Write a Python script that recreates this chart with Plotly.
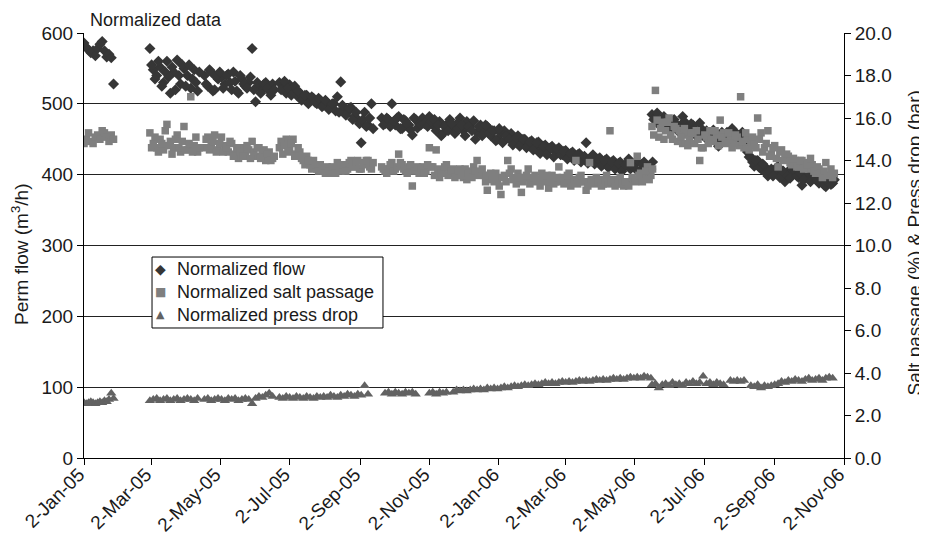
import pandas as pd
import plotly.graph_objects as go

# ---------------- data ----------------
# sampling campaigns: start date and sampling step (days); "2" arrays are the
# interleaved second readings of the same campaign
start_a, step_a = "2005-01-02", 2
start_b, step_b = "2005-03-01", 3
start_b2 = "2005-03-02 12:00"
start_c, step_c = "2006-05-17", 3
start_c2 = "2006-05-18 12:00"

flow_a = [586, 580, 576, 572, 575, 568, 578, 584, 588, 575, 566, 570, 565, 528]
salt_a = [14.8, 15.0, 15.3, 14.9, 14.8, 15.1, 15.2, 15.0, 15.4, 15.3, 15.1, 14.9, 15.2, 15.0]
press_a = [2.6, 2.55, 2.6, 2.65, 2.6, 2.55, 2.6, 2.65, 2.6, 2.7, 2.65, 2.75, 3.05, 2.8]

flow_b = [578, 548, 540, 552, 530, 560, 515, 545, 562, 528,
          550, 540, 522, 548, 518, None, 540, 525, 545, 520,
          535, 538, 528, 542, 520, 532, 515, 535, 525, 530,
          578, 503, 525, 520, 530, 518, 528, None, 530, 525,
          515, 527, 520, 512, 515, 508, 512, 505, 508, 500,
          505, 498, 502, 495, 500, 510, 531, 492, 488, 495,
          482, 478, 445, 488, 470, 500, None, None, 480, 472,
          478, 500, 470, 482, 465, 476, 470, 456, 478, 472,
          480, 475, 482, 470, 462, 475, 458, 470, 478, 465,
          472, 480, 462, 475, 468, 476, 460, 470, 462, 468,
          455, 462, 450, 458, 462, 452, 458, 448, 455, 445,
          450, 442, 448, 440, 446, 436, 442, 434, 440, 432,
          438, 428, 434, 426, 432, 424, 430, 422, 445, 420,
          428, 418, 424, 415, 422, 414, 420, 412, 418, 410,
          416, 408, 414, 420, 406, 418, 402, 408]
flow_b2 = [555, 535, 560, 525, 545, 538, 552, 520, 540, 555,
           525, 555, 535, 530, 545, None, 528, 548, 518, 538,
           545, 522, 540, 530, 545, 518, 540, 528, 522, 538,
           520, 530, 515, 528, 522, 512, 520, None, 520, 532,
           522, 512, 525, 518, 505, 512, 500, 510, 502, 508,
           496, 505, 492, 500, 490, 488, 498, 484, 494, 478,
           488, 472, 478, 468, 480, 465, None, None, 470, 480,
           468, 475, 480, 465, 478, 472, 463, 480, 466, 470,
           472, 468, 475, 478, 470, 455, 468, 462, 472, 458,
           465, 470, 455, 468, 462, 450, 468, 455, 470, 458,
           462, 448, 465, 445, 455, 450, 442, 452, 440, 450,
           438, 446, 435, 445, 430, 440, 428, 438, 425, 436,
           428, 433, 422, 430, 420, 428, 418, 426, 416, 424,
           415, 422, 412, 420, 410, 418, 408, 416, 405, 414,
           422, 412, 408, 404, 414, 410, 412, 418]
salt_b = [15.3, 14.8, 14.6, 15.0, 14.5, 15.7, 14.9, 14.6, 15.2, 14.4,
          15.6, 14.5, 17.0, 14.7, 14.4, None, 14.6, 15.1, 14.7, 15.2,
          14.5, 15.1, 14.7, 14.4, 14.8, 14.3, 14.1, 14.6, 14.3, 14.5,
          14.9, 14.2, 14.6, 14.3, 14.0, 14.4, 14.1, None, 14.6, 14.3,
          15.0, 14.5, 15.0, 14.3, 14.4, 14.0, 14.2, 13.8, 14.0, 13.6,
          13.8, 13.5, 13.7, 13.4, 13.6, 13.9, 13.5, 13.8, 13.6, 14.0,
          13.7, 14.0, 13.6, 13.9, 14.0, 13.6, None, None, 13.7, 13.5,
          13.6, 13.9, 13.6, 14.3, 13.8, 13.5, 13.7, 12.8, 13.6, 13.4,
          13.7, 13.5, 14.6, 13.7, 14.5, 13.2, 13.5, 13.8, 13.4, 13.6,
          13.3, 13.6, 13.2, 13.1, 13.5, 13.7, 14.0, 13.4, 13.3, 12.6,
          13.4, 13.0, 13.1, 12.4, 13.3, 14.0, 13.6, 13.2, 13.4, 12.5,
          13.2, 13.6, 13.1, 13.3, 13.1, 13.4, 13.0, 12.7, 13.3, 13.0,
          13.7, 13.2, 13.0, 13.4, 13.1, 14.0, 13.2, 13.0, 12.6, 13.9,
          13.0, 13.2, 13.1, 12.9, 13.3, 15.4, 13.1, 12.9, 13.2, 12.8,
          13.0, 13.9, 13.1, 14.2, 13.4, 13.2, 13.7, 13.3]
salt_b2 = [14.6, 15.1, 14.4, 14.8, 15.4, 14.7, 14.3, 15.0, 14.6, 14.9,
           14.5, 14.8, 14.4, 15.1, 14.6, None, 15.0, 14.5, 14.9, 14.4,
           14.8, 14.4, 14.6, 14.9, 14.2, 14.6, 14.4, 14.2, 14.7, 14.1,
           14.4, 14.6, 14.1, 14.5, 14.3, 14.0, 14.2, None, 14.9, 14.7,
           14.4, 14.8, 14.2, 14.6, 14.1, 13.8, 14.0, 13.6, 13.8, 13.5,
           13.6, 13.4, 13.5, 13.7, 13.4, 13.6, 13.8, 13.5, 13.9, 13.7,
           13.9, 13.6, 13.8, 14.0, 13.7, 13.9, None, None, 13.6, 13.4,
           13.8, 13.5, 13.7, 13.9, 13.6, 13.4, 13.8, 13.5, 13.7, 13.6,
           13.4, 13.8, 13.7, 13.3, 13.6, 13.4, 13.7, 13.3, 13.5, 13.2,
           13.5, 13.3, 13.6, 13.4, 13.2, 13.5, 13.3, 13.6, 13.0, 13.3,
           13.1, 13.4, 12.8, 13.2, 13.0, 13.4, 13.1, 12.9, 13.2, 13.0,
           13.3, 12.9, 13.2, 13.0, 12.8, 13.1, 13.3, 13.0, 12.9, 13.2,
           13.0, 12.9, 13.3, 12.8, 13.1, 12.9, 13.3, 13.0, 12.8, 13.1,
           12.9, 13.0, 12.8, 13.1, 12.9, 13.0, 12.8, 13.1, 12.9, 13.0,
           12.8, 13.2, 13.0, 13.3, 13.0, 13.5, 13.1, 13.6]
press_b = [2.7, 2.75, 2.8, 2.7, 2.75, 2.8, 2.7, 2.75, 2.8, 2.7,
           2.75, 2.8, 2.75, 2.7, 2.8, None, 2.75, 2.8, 2.7, 2.75,
           2.8, 2.75, 2.7, 2.8, 2.75, 2.8, 2.7, 2.75, 2.8, 2.75,
           2.55, 2.8, 2.9, 2.85, 2.95, 3.05, 2.9, None, 2.85, 2.8,
           2.9, 2.85, 2.8, 2.9, 2.85, 2.8, 2.9, 2.85, 2.8, 2.9,
           2.85, 2.9, 2.85, 2.95, 2.9, 2.85, 2.95, 2.9, 3.0, 2.95,
           2.9, 3.0, 2.95, 3.4, 3.0, None, None, None, None, 3.05,
           3.1, 3.0, 3.1, 3.05, 3.0, 3.1, 3.05, 3.1, 3.0, None,
           None, None, 3.05, 3.1, 3.0, 3.1, 3.05, 3.1, None, 3.1,
           3.2, 3.15, 3.2, 3.15, 3.2, 3.25, 3.2, 3.25, 3.2, 3.3,
           3.25, 3.3, 3.25, 3.3, 3.35, 3.3, 3.35, 3.4, 3.35, 3.4,
           3.45, 3.4, 3.45, 3.5, 3.45, 3.5, 3.55, 3.5, 3.55, 3.5,
           3.55, 3.6, 3.55, 3.6, 3.55, 3.6, 3.65, 3.6, 3.65, 3.6,
           3.65, 3.7, 3.65, 3.7, 3.65, 3.7, 3.75, 3.7, 3.75, 3.7,
           3.75, 3.8, 3.75, 3.8, 3.75, 3.85, 3.8, 3.75]

flow_c = [485, 480, 472, 478, 470, 475, 466, 472, 465, 482,
          468, 462, 470, 458, 473, 455, 462, 450, 463, 445,
          453, 448, 460, 458, 462, 452, 456, 440, 432, 425,
          412, 420, 408, 412, 398, 408, 402, 411, 400, 390,
          405, 400, 407, 396, 385, 398, 402, 395, 400, 388,
          395, 383, 392, 388]
flow_c2 = [478, 487, 468, 482, 465, 472, 478, 462, 470, 475,
           460, 472, 465, 452, 465, 460, 448, 458, 452, 440,
           460, 452, 448, 465, 455, 445, 460, 448, 425, 418,
           420, 410, 415, 402, 405, 398, 410, 396, 405, 398,
           395, 408, 398, 402, 393, 405, 390, 398, 392, 395,
           385, 390, 386, 393]
salt_c = [15.6, 17.3, 15.1, 15.8, 15.4, 16.0, 15.0, 15.5, 15.4, 14.8,
          15.2, 15.0, 15.3, 15.4, 14.0, 14.6, 15.1, 15.4, 14.9, 15.2,
          15.9, 15.3, 14.9, 15.0, 14.8, 15.1, 17.0, 14.6, 15.0, 14.7,
          14.8, 16.0, 15.3, 14.6, 15.4, 14.3, 14.7, 13.7, 14.5, 14.1,
          14.2, 13.8, 14.0, 13.7, 14.0, 13.9, 13.6, 13.8, 13.4, 13.6,
          13.2, 13.9, 13.3, 13.2]
salt_c2 = [15.2, 15.9, 15.5, 15.0, 15.8, 15.2, 15.6, 14.9, 15.1, 15.5,
           14.7, 15.3, 14.8, 15.0, 14.6, 15.2, 14.8, 15.0, 15.4, 14.7,
           15.1, 14.8, 15.3, 14.6, 15.2, 14.7, 14.9, 15.3, 14.5, 15.1,
           14.6, 15.0, 14.4, 14.8, 14.2, 14.6, 14.1, 14.4, 14.0, 14.3,
           13.9, 14.1, 13.7, 14.0, 13.6, 13.8, 14.1, 13.5, 13.7, 13.4,
           13.5, 13.3, 13.6, 13.4]
press_c = [3.45, 3.5, 3.3, 3.45, 3.5, 3.4, 3.55, 3.45, 3.5, 3.4,
           3.55, 3.5, 3.6, 3.5, 3.55, 3.85, 3.5, 3.55, 3.45, 3.55,
           3.5, 3.45, None, 3.65, 3.6, 3.65, 3.6, 3.65, None, 3.4,
           3.35, 3.45, 3.3, 3.4, 3.35, 3.4, 3.45, 3.5, 3.6, 3.55,
           3.65, 3.6, 3.7, 3.65, 3.6, 3.7, 3.75, 3.65, 3.7, 3.75,
           3.65, 3.75, 3.8, 3.75]

tick_dates = ["2005-01-02", "2005-03-02", "2005-05-02", "2005-07-02", "2005-09-02",
              "2005-11-02", "2006-01-02", "2006-03-02", "2006-05-02", "2006-07-02",
              "2006-09-02", "2006-11-02"]
tick_labels = ["2-Jan-05", "2-Mar-05", "2-May-05", "2-Jul-05", "2-Sep-05", "2-Nov-05",
               "2-Jan-06", "2-Mar-06", "2-May-06", "2-Jul-06", "2-Sep-06", "2-Nov-06"]

legend_names = ["Normalized flow", "Normalized salt passage", "Normalized press drop"]
legend_glyphs = ["\u25C6", "\u25A0", "\u25B2"]
legend_glyph_sizes = [14, 12, 11]
series_colors = ["#363636", "#7f7f7f", "#626262"]

# ---------------- build ----------------
def dates(start, step, n):
    return list(pd.date_range(start, periods=n, freq=f"{step}D"))

d_a = dates(start_a, step_a, len(flow_a))
d_b = dates(start_b, step_b, len(flow_b))
d_b2 = dates(start_b2, step_b, len(flow_b2))
d_c = dates(start_c, step_c, len(flow_c))
d_c2 = dates(start_c2, step_c, len(flow_c2))

FONT = "Liberation Sans, Arial, Helvetica, sans-serif"
TXT = "#1a1a1a"

fig = go.Figure()
fig.add_trace(go.Scatter(x=d_a + d_b + d_b2 + d_c + d_c2,
                         y=flow_a + flow_b + flow_b2 + flow_c + flow_c2,
                         mode="markers", name=legend_names[0], yaxis="y",
                         marker=dict(symbol="diamond", size=8.5, color=series_colors[0])))
fig.add_trace(go.Scatter(x=d_a + d_b + d_b2 + d_c + d_c2,
                         y=salt_a + salt_b + salt_b2 + salt_c + salt_c2,
                         mode="markers", name=legend_names[1], yaxis="y2",
                         marker=dict(symbol="square", size=7.5, color=series_colors[1])))
fig.add_trace(go.Scatter(x=d_a + d_b + d_c, y=press_a + press_b + press_c,
                         mode="markers", name=legend_names[2], yaxis="y2",
                         marker=dict(symbol="triangle-up", size=9, color=series_colors[2])))

# hand-drawn legend (box, symbols, labels) in plot-fraction coordinates
leg_x0, leg_x1, leg_y0, leg_y1 = 0.0895, 0.3934, 0.3059, 0.4729
leg_sym_x, leg_txt_x = 0.1013, 0.1197
leg_rows = [0.4447, 0.3906, 0.3365]

annotations = [
    dict(text="Normalized data", xref="paper", yref="paper", x=0.005, y=1.03,
         xanchor="left", yanchor="middle", showarrow=False,
         font=dict(size=18, color=TXT)),
    dict(text="Perm flow (m<sup>3</sup>/h)", xref="paper", yref="paper",
         x=-0.0842, y=0.48, xanchor="center", yanchor="middle", textangle=-90,
         showarrow=False, font=dict(size=19, color=TXT)),
    dict(text="Salt passage (%) &amp; Press drop (bar)", xref="paper", yref="paper",
         x=1.0940, y=0.506, xanchor="center", yanchor="middle", textangle=-90,
         showarrow=False, font=dict(size=19, color=TXT)),
]
for name, glyph, gsize, col, yy in zip(legend_names, legend_glyphs, legend_glyph_sizes,
                                       series_colors, leg_rows):
    annotations.append(dict(text=glyph, xref="paper", yref="paper", x=leg_sym_x, y=yy,
                            xanchor="center", yanchor="middle", showarrow=False,
                            font=dict(family="DejaVu Sans", size=gsize, color=col)))
    annotations.append(dict(text=name, xref="paper", yref="paper", x=leg_txt_x, y=yy,
                            xanchor="left", yanchor="middle", showarrow=False,
                            font=dict(size=18, color=TXT)))

axis_common = dict(ticks="outside", ticklen=6, tickcolor="#000", showline=True,
                   linecolor="#000", linewidth=1, zeroline=False, automargin=False,
                   tickfont=dict(size=19, color=TXT))

fig.update_layout(
    width=919, height=534,
    margin=dict(l=76, r=83, t=25, b=84),
    paper_bgcolor="white", plot_bgcolor="white",
    font=dict(family=FONT, size=19, color=TXT),
    showlegend=False,
    xaxis=dict(type="date", range=["2005-01-02", "2006-11-02"],
               tickmode="array", tickvals=tick_dates, ticktext=tick_labels,
               tickangle=-45, showgrid=False, ticklabelstandoff=-9,
               ticklabelshift=-5, **axis_common),
    yaxis=dict(range=[0, 600], tick0=0, dtick=100, showgrid=True,
               gridcolor="#222", gridwidth=1, **axis_common),
    yaxis2=dict(overlaying="y", side="right", range=[0, 20], tick0=0, dtick=2,
                tickformat=".1f", showgrid=False, **axis_common),
    xaxis2=dict(overlaying="x", range=[0, 1], visible=False),
    yaxis3=dict(overlaying="y", anchor="x2", side="right", range=[0, 20], tick0=0,
                dtick=2, ticks="inside", ticklen=6, tickcolor="#000",
                showticklabels=False, showline=False, showgrid=False, zeroline=False),
    shapes=[dict(type="rect", xref="paper", yref="paper", x0=leg_x0, x1=leg_x1,
                 y0=leg_y0, y1=leg_y1, fillcolor="white",
                 line=dict(color="#000", width=1), layer="above")],
    annotations=annotations,
)

fig.write_html("out.html")
